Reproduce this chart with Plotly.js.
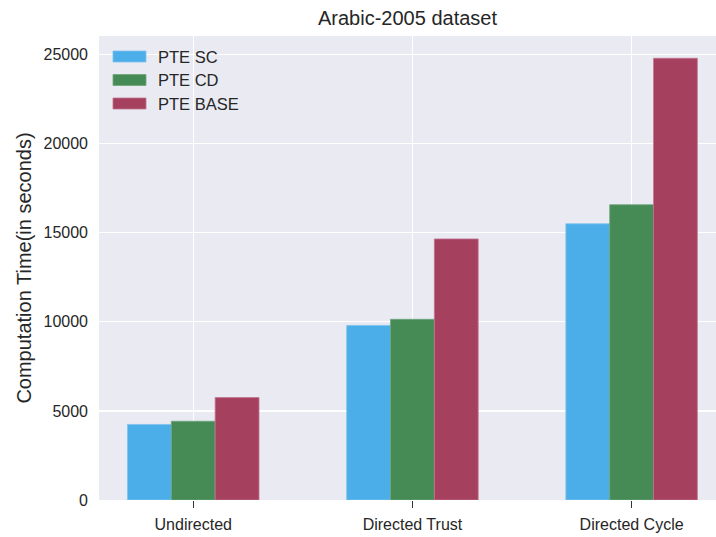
<!DOCTYPE html>
<html>
<head>
<meta charset="utf-8">
<script src="https://cdn.plot.ly/plotly-3.0.1.min.js"></script>
<style>
  html, body { margin: 0; padding: 0; background: #ffffff; overflow: hidden; }
  #chart { width: 716px; height: 537px; }
</style>
</head>
<body>
<div id="chart"></div>
<script>
// Computation time per graph type, for the three PTE variants
const categories = ['Undirected', 'Directed Trust', 'Directed Cycle'];
const seriesNames = ['PTE SC', 'PTE CD', 'PTE BASE'];
const pteSC   = [4240, 9800, 15500];
const pteCD   = [4420, 10140, 16570];
const pteBASE = [5750, 14650, 24790];
const yTicks  = [0, 5000, 10000, 15000, 20000, 25000];

const colors = ['#4caee8', '#468b55', '#a6405f'];
const edgeColors = ['#7cc3ee', '#6fa67b', '#c27590'];
const seriesValues = [pteSC, pteCD, pteBASE];

const W = 716, H = 537;
const M = { l: 99, r: 0, t: 36, b: 37 };
const plotW = W - M.l - M.r, plotH = H - M.t - M.b;
// pixel -> paper helpers for the legend box
const px = x => (x - M.l) / plotW;
const py = y => (H - M.b - y) / plotH;

const FONT = 'Liberation Sans, Arial, sans-serif';

const traces = seriesNames.map((name, i) => ({
  type: 'bar',
  name: name,
  x: categories,
  y: seriesValues[i],
  marker: { color: colors[i], line: { color: edgeColors[i], width: 0.8 } },
  hoverinfo: 'x+y+name',
  showlegend: false
}));

// Legend drawn as swatches + labels in the upper-left of the plot area
const shapes = [];
const annotations = [];
const rowY = [56.5, 80, 103.5];
seriesNames.forEach((name, i) => {
  shapes.push({
    type: 'rect', xref: 'paper', yref: 'paper',
    x0: px(113), x1: px(146), y0: py(rowY[i] + 5.5), y1: py(rowY[i] - 5.5),
    fillcolor: colors[i], line: { color: edgeColors[i], width: 0.8 }, layer: 'above'
  });
  annotations.push({
    xref: 'paper', yref: 'paper', x: px(156), y: py(rowY[i]),
    xanchor: 'left', yanchor: 'middle', showarrow: false,
    text: name, font: { family: FONT, size: 16.5, color: '#262626' }
  });
});

const layout = {
  width: W, height: H,
  margin: M,
  paper_bgcolor: '#ffffff',
  plot_bgcolor: '#eaeaf2',
  font: { family: FONT, size: 16, color: '#262626' },
  title: {
    text: 'Arabic-2005 dataset',
    font: { size: 20, color: '#262626' },
    x: 0.5, xref: 'paper', xanchor: 'center',
    y: 1 - 18 / H, yanchor: 'middle'
  },
  barmode: 'group',
  bargap: 0.4,
  bargroupgap: 0,
  xaxis: {
    type: 'category',
    range: [-0.43, 2.385],
    showgrid: true, gridcolor: '#ffffff', gridwidth: 1.2,
    ticks: 'outside', ticklen: 7, tickwidth: 1.2, tickcolor: '#333333',
    ticklabelstandoff: 3,
    tickfont: { size: 16, color: '#262626' },
    showline: false, zeroline: false, fixedrange: true
  },
  yaxis: {
    range: [0, 26040],
    tickvals: yTicks,
    ticktext: yTicks.map(String),
    showgrid: true, gridcolor: '#ffffff', gridwidth: 1.2,
    ticks: '', ticklabelstandoff: 10,
    tickfont: { size: 16, color: '#262626' },
    showline: false, zeroline: false, fixedrange: true,
    title: { text: 'Computation Time(in seconds)', font: { size: 20, color: '#262626' }, standoff: 6 },
    automargin: false
  },
  shapes: shapes,
  annotations: annotations,
  showlegend: false
};

Plotly.newPlot('chart', traces, layout, { displayModeBar: false, staticPlot: true });
</script>
</body>
</html>
